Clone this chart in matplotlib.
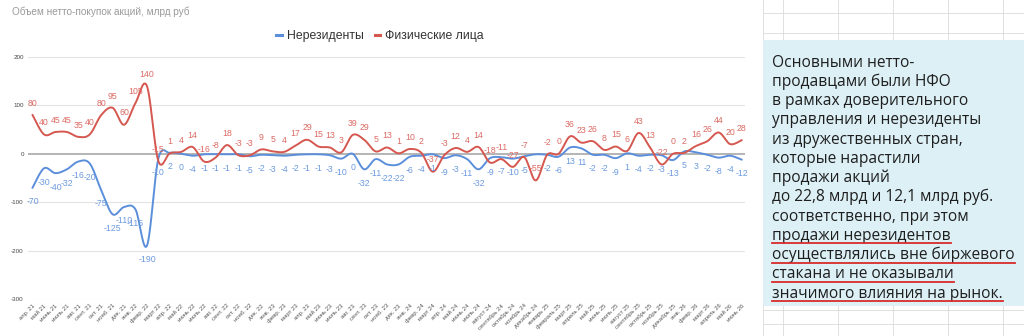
import numpy as np
import matplotlib
matplotlib.use("Agg")
import matplotlib.pyplot as plt
from matplotlib.lines import Line2D
from matplotlib.patches import Rectangle

# data
months = ["апр. 21", "май 21", "июнь 21", "июль 21", "авг. 21", "сент. 21", "окт. 21", "нояб. 21",
          "дек. 21", "янв. 22", "февр. 22", "март 22", "апр. 22", "май 22", "июнь 22", "июль 22",
          "авг. 22", "сент. 22", "окт. 22", "нояб. 22", "дек. 22", "янв. 23", "февр. 23", "март 23",
          "апр. 23", "май 23", "июнь 23", "июль 23", "авг. 23", "сент. 23", "окт. 23", "нояб. 23",
          "дек. 23", "янв. 24", "февр. 24", "март 24", "апр. 24", "май 24", "июнь 24", "июль 24",
          "август 24", "сентябрь 24", "октябрь 24", "ноябрь 24", "декабрь 24", "январь 25",
          "февраль 25", "март 25", "апрель 25", "май 25", "июнь 25", "июль 25", "август 25",
          "сентябрь 25", "октябрь 25", "ноябрь 25", "декабрь 25", "янв. 26", "февр. 26", "март 26",
          "апрель 26", "май 26", "июнь 26"]

nonres = [-70, -30, -40, -32, -16, -20, -75, -125, -110, -115, -190, -10, 2, 0, -4, -1,
          -1, -1, -1, -5, -2, -3, -4, -2, -1, -1, -3, -10, 0, -32, -11, -22, -22, -6, -4, -1,
          -9, -3, -11, -32, -9, -7, -10, -5, -1, -2, -6, 13, 11, -2, -2, -9, 1, -4, -2, -3,
          -13, 5, 3, -2, -8, -4, -12]
# label hidden behind the -55 in the reference
nonres_no_label = [44]

retail = [80, 40, 45, 45, 35, 40, 80, 95, 60, 105, 140, -15, 1, 4, 14, -16, -8, 18, -3, -3,
          9, 5, 4, 17, 29, 15, 13, 3, 39, 29, 5, 13, 1, 10, 2, -37, -3, 12, 4, 14, -18, -11,
          -27, -7, -55, -2, 0, 36, 23, 26, 8, 15, 6, 43, 13, -22, 0, 2, 16, 26, 44, 20, 28]

note_lines = ["Основными нетто-", "продавцами были НФО", "в рамках доверительного",
              "управления и нерезиденты", "из дружественных стран,", "которые нарастили",
              "продажи акций", "до 22,8 млрд и 12,1 млрд руб.", "соответственно, при этом",
              "продажи нерезидентов", "осуществлялись вне биржевого", "стакана и не оказывали",
              "значимого влияния на рынок."]
underlined = [9, 10, 11, 12]

BLUE = "#5b8fdb"
RED = "#d5574f"
BLUE_TXT = "#6b9ae0"
RED_TXT = "#dc6a63"

plt.rcParams["font.family"] = ["Liberation Sans", "DejaVu Sans"]


def smooth(y, n=16):
    # catmull-rom curve through the points, like the spreadsheet "smooth" line
    y = np.asarray(y, float)
    x = np.arange(len(y), dtype=float)
    xs, ys = [], []
    t = np.linspace(0, 1, n, endpoint=False)
    for i in range(len(y) - 1):
        i0, i3 = max(i - 1, 0), min(i + 2, len(y) - 1)
        for arr, out in ((x, xs), (y, ys)):
            p0, p1, p2, p3 = arr[i0], arr[i], arr[i + 1], arr[i3]
            out.extend(0.5 * ((2 * p1) + (-p0 + p2) * t + (2 * p0 - 5 * p1 + 4 * p2 - p3) * t ** 2
                              + (-p0 + 3 * p1 - 3 * p2 + p3) * t ** 3))
    xs.append(x[-1])
    ys.append(y[-1])
    return np.array(xs), np.array(ys)


fig = plt.figure(figsize=(10.24, 3.36), dpi=100)
ax = fig.add_axes([28 / 1024, 1 - 299 / 336, (745 - 28) / 1024, (299 - 57) / 336])

x = np.arange(len(months))
for v in [200, 100, -100, -200, -300]:
    ax.axhline(v, color="#e3e3e3", lw=0.8, zorder=0)
ax.axhline(0, color="#a0a0a0", lw=1.1, zorder=1)

sx, sy = smooth(nonres)
ax.plot(sx, sy, color=BLUE, lw=1.4, zorder=3)
sx, sy = smooth(retail)
ax.plot(sx, sy, color=RED, lw=1.4, zorder=3)

for i in x:
    if i not in nonres_no_label:
        ax.annotate(str(nonres[i]), (i, nonres[i]), xytext=(0, -10), textcoords="offset points",
                    ha="center", va="center", fontsize=6.3, color=BLUE_TXT, zorder=4)
    ax.annotate(str(retail[i]), (i, retail[i]), xytext=(0, 8.5), textcoords="offset points",
                ha="center", va="center", fontsize=6.3, color=RED_TXT, zorder=4)

ax.set_xlim(-0.4, 62.3)
ax.set_ylim(-300, 200)
ax.set_yticks([200, 100, 0, -100, -200, -300])
ax.set_yticklabels(["200", "100", "0", "-100", "-200", "-300"], fontsize=4.5, color="#444444")
ax.set_xticks(x)
ax.set_xticklabels(months, rotation=45, ha="right", rotation_mode="anchor", fontsize=4.3,
                   color="#555555")
ax.tick_params(length=0, pad=3)
for s in ax.spines.values():
    s.set_visible(False)

fig.text(12 / 1024, 1 - 12 / 336, "Объем нетто-покупок акций, млрд руб", fontsize=7.2,
         color="#9a9a9a", va="center")

handles = [Line2D([], [], color=BLUE, lw=2.2), Line2D([], [], color=RED, lw=2.2)]
fig.legend(handles, ["Нерезиденты", "Физические лица"], loc="center", ncol=2,
           bbox_to_anchor=(380 / 1024, 1 - 36 / 336), frameon=False, fontsize=8.8,
           handlelength=0.45, handletextpad=0.4, columnspacing=0.9, labelcolor="#333333")

# right side: spreadsheet-like backdrop with the note box
for gx in [763, 783, 838, 893, 948, 1003]:
    fig.add_artist(Line2D([gx / 1024] * 2, [0, 1], color="#dadada", lw=0.6))
for gy in [13, 33, 310, 324]:
    fig.add_artist(Line2D([763 / 1024, 1], [1 - gy / 336] * 2, color="#dadada", lw=0.6))
fig.add_artist(Rectangle((763 / 1024, 1 - 306 / 336), (1024 - 763) / 1024, (306 - 40) / 336,
                         transform=fig.transFigure, facecolor="#dcf0f6", edgecolor="none",
                         zorder=2))

texts = []
for k, line in enumerate(note_lines):
    y = 1 - (66.7 + 19.25 * k) / 336
    texts.append(fig.text(772 / 1024, y, line, fontsize=11.2, color="#1e1e1e", va="baseline",
                          family="Open Sans", zorder=3))

fig.canvas.draw()
r = fig.canvas.get_renderer()
for k in underlined:
    bb = texts[k].get_window_extent(r)
    yl = 1 - (66.7 + 19.25 * k + 3.5) / 336
    fig.add_artist(Line2D([bb.x0 / 1024, bb.x1 / 1024], [yl, yl], color="#d92b2b", lw=1.3,
                          zorder=4))

fig.savefig("out.png", dpi=100)
